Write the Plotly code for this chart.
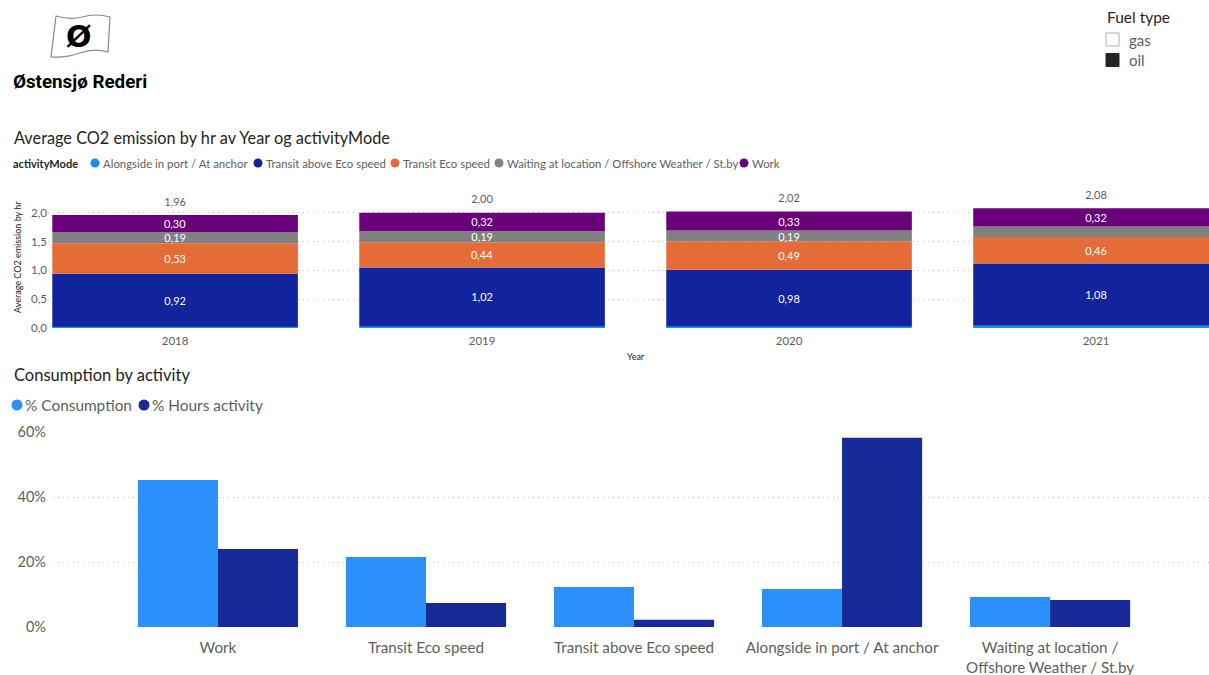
import numpy as np
import plotly.graph_objects as go

W, H = 1209, 675


def px(x):
    return x / W


def py(y):
    return 1 - y / H


# ---------------- data ----------------
years = ["2018", "2019", "2020", "2021"]
modes = [
    "Alongside in port / At anchor",
    "Transit above Eco speed",
    "Transit Eco speed",
    "Waiting at location / Offshore Weather / St.by",
    "Work",
]
alongside = [0.02, 0.03, 0.03, 0.04]
transit_above = [0.92, 1.02, 0.98, 1.08]
transit_eco = [0.53, 0.44, 0.49, 0.46]
waiting = [0.19, 0.19, 0.19, 0.18]
work = [0.30, 0.32, 0.33, 0.32]

activities = [
    "Work",
    "Transit Eco speed",
    "Transit above Eco speed",
    "Alongside in port / At anchor",
    "Waiting at location /<br>Offshore Weather / St.by",
]
pct_consumption = [0.452, 0.215, 0.123, 0.117, 0.092]
pct_hours = [0.240, 0.074, 0.022, 0.582, 0.083]
measures = ["% Consumption", "% Hours activity"]

fuel_types = ["gas", "oil"]

# ---------------- styles ----------------
mode_colors = ["#118DFF", "#12239E", "#E66C37", "#808080", "#6B007B"]
cons_color = "#2B8FFC"
hours_color = "#172A98"
FONT = "Segoe UI, Lato, sans-serif"
DARK = "#252423"
GREY = "#605E5C"
GRID = "#C8C6C4"
DOTS = "1px,4px"


def fmt(v):
    return f"{v:.2f}".replace(".", ",")


fig = go.Figure()

# ---- top stacked chart ----
series = [alongside, transit_above, transit_eco, waiting, work]
base = np.zeros(len(years))
for name, vals, col in zip(modes, series, mode_colors):
    v = np.array(vals, dtype=float)
    txt = [fmt(x) if x >= 0.185 else "" for x in v]
    fig.add_trace(go.Bar(
        x=years, y=v, base=base.copy(), name=name,
        marker=dict(color=col, line=dict(width=0)),
        text=txt, textposition="inside", insidetextanchor="middle",
        constraintext="none", textangle=0,
        textfont=dict(color="white", size=11, family=FONT),
        showlegend=False, xaxis="x", yaxis="y", hoverinfo="skip",
    ))
    base = base + v

fig.add_trace(go.Scatter(
    x=years, y=base, mode="markers+text", text=[fmt(t) for t in base],
    marker=dict(size=9, color="rgba(0,0,0,0)"),
    textposition="top center", cliponaxis=False,
    textfont=dict(size=11, color=GREY, family=FONT),
    showlegend=False, xaxis="x", yaxis="y", hoverinfo="skip",
))

# ---- bottom grouped chart ----
fig.add_trace(go.Bar(
    x=activities, y=pct_consumption, width=0.385, offset=-0.385,
    marker=dict(color=cons_color, line=dict(width=0)),
    showlegend=False, xaxis="x2", yaxis="y2", name=measures[0],
))
fig.add_trace(go.Bar(
    x=activities, y=pct_hours, width=0.385, offset=0.0,
    marker=dict(color=hours_color, line=dict(width=0)),
    showlegend=False, xaxis="x2", yaxis="y2", name=measures[1],
))

# ---------------- annotations / legends ----------------
annotations = []
shapes = []


def text(t, x, y, size, color=DARK, xanchor="left", family=FONT, **kw):
    annotations.append(dict(text=t, x=px(x), y=py(y), xref="paper", yref="paper",
                            showarrow=False, xanchor=xanchor, yanchor="middle",
                            font=dict(size=size, color=color, family=family), **kw))


def circle(cx, cy, d, color):
    r = d / 2
    shapes.append(dict(type="circle", xref="paper", yref="paper",
                       x0=px(cx - r), x1=px(cx + r), y0=py(cy + r), y1=py(cy - r),
                       fillcolor=color, line=dict(width=0)))


def square(x0, y0, s, fill, line):
    shapes.append(dict(type="rect", xref="paper", yref="paper",
                       x0=px(x0), x1=px(x0 + s), y0=py(y0 + s), y1=py(y0),
                       fillcolor=fill, line=dict(color=line, width=1)))


# titles
text("Average CO2 emission by hr av Year og activityMode", 12, 137, 16.3)
text("Consumption by activity", 12, 375, 16.5)
text("Average CO2 emission by hr", 17, 257, 9, xanchor="center", textangle=-90)
text("Year", 636, 356, 9, xanchor="center")

# top legend
text("<b>activityMode</b>", 11, 163, 11)
leg_cx = [95, 258, 395, 499, 744]
for cx, name, col in zip(leg_cx, modes, mode_colors):
    circle(cx, 163, 9, col)
    text(name, cx + 6, 163, 11.4, color=GREY)

# bottom legend
for cx, name, col in zip([17, 144], measures, [cons_color, hours_color]):
    circle(cx, 405, 11, col)
    text(name, cx + 6, 405, 15.4, color=GREY)

# fuel legend
text("Fuel type", 1105, 17, 15.5)
for (cy, name, fill, line) in zip([39.5, 60], fuel_types, ["white", DARK], ["#B3B0AD", DARK]):
    square(1106, cy - 6.5, 13, fill, line)
    text(name, 1127, cy, 15, color=GREY)

# logo
text("<b>Ø</b>", 79, 36, 30, color="black", xanchor="center", family="DejaVu Sans")
text("<b>Østensjø Rederi</b>", 11, 82, 18.8, color="black", family="Roboto")


def P(x, y):
    return f"{px(x):.5f},{py(y):.5f}"


flag_path = (
    f"M {P(56,16)} Q {P(70,20)} {P(82,17)} Q {P(96,13)} {P(110,17)} "
    f"L {P(108,52)} Q {P(94,48)} {P(80,53)} Q {P(66,58)} {P(51,57)} Z"
)
shapes.insert(0, dict(type="path", path=flag_path, xref="paper", yref="paper",
                      line=dict(color="#8A8A8A", width=1.2), fillcolor="white"))

fig.update_layout(
    width=W, height=H, autosize=False,
    margin=dict(l=0, r=0, t=0, b=0, pad=0),
    paper_bgcolor="white", plot_bgcolor="white",
    barmode="overlay", bargap=0.2,
    separators=", ",
    showlegend=False,
    font=dict(family=FONT, color=GREY),
    xaxis=dict(domain=[px(48), 1], range=[-0.414, 3.368], type="category",
               automargin=False,
               showgrid=False, showline=False, zeroline=False, ticks="",
               ticklabelstandoff=4,
               tickfont=dict(size=11.5, color=GREY, family=FONT), anchor="y"),
    yaxis=dict(domain=[py(328), py(207)], range=[0, 2.1],
               automargin=False,
               tickvals=[0, 0.5, 1, 1.5, 2], tickformat=".1f",
               showgrid=True, gridcolor=GRID, griddash=DOTS, gridwidth=1,
               zeroline=False, showline=False, ticks="",
               tickfont=dict(size=11.5, color=GREY, family=FONT), anchor="x"),
    xaxis2=dict(domain=[px(53), 1], range=[-0.793, 4.764], type="category",
                automargin=False,
                showgrid=False, showline=False, zeroline=False, ticks="",
                ticklabelstandoff=10,
                tickfont=dict(size=15.2, color=GREY, family=FONT), anchor="y2"),
    yaxis2=dict(domain=[py(627), py(432)], range=[0, 0.6],
                automargin=False,
                tickvals=[0, 0.2, 0.4, 0.6], tickformat=".0%",
                showgrid=True, gridcolor=GRID, griddash=DOTS, gridwidth=1,
                zeroline=False, showline=False, ticks="", ticklabelstandoff=6,
                tickfont=dict(size=14.5, color=GREY, family=FONT), anchor="x2"),
    annotations=annotations,
    shapes=shapes,
)

fig.write_html("out.html")
